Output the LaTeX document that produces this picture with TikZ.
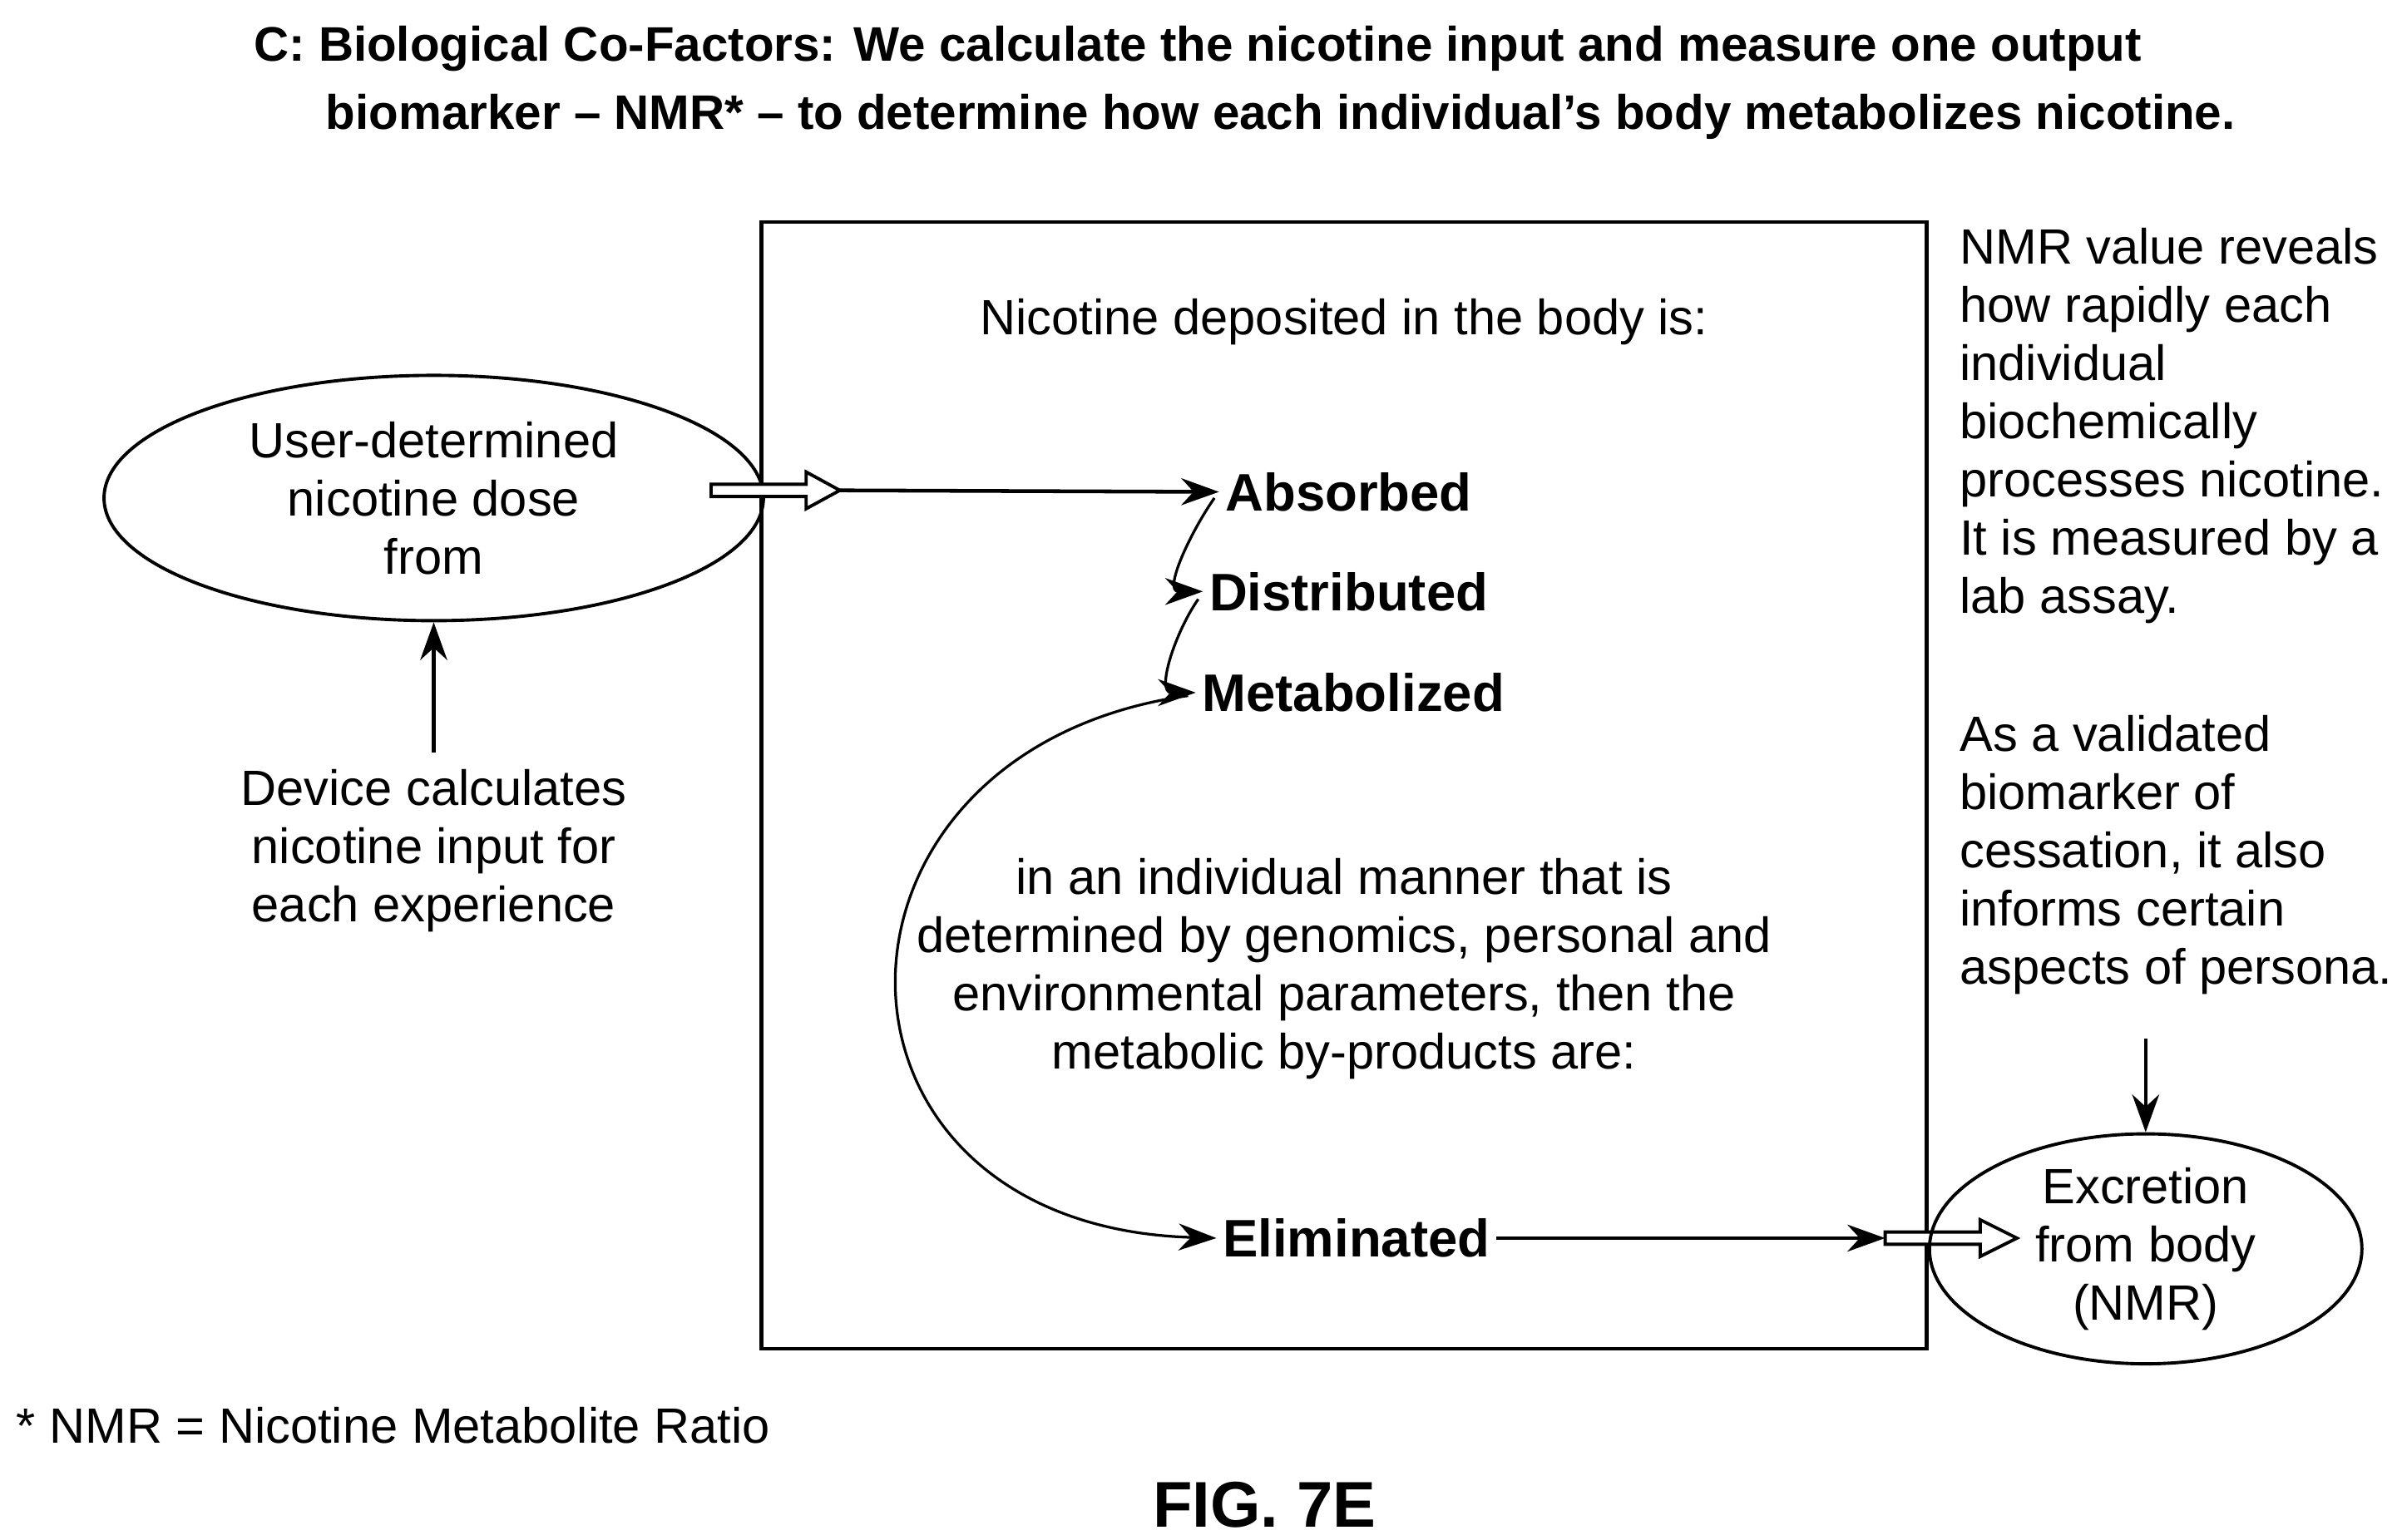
\documentclass[tikz,border=0pt]{standalone}
\usepackage{fontspec}
\setmainfont{Liberation Sans}
\usetikzlibrary{arrows.meta,shapes.geometric}
\begin{document}
\begin{tikzpicture}[x=0.01cm,y=-0.01cm,
  txt/.style={font=\fontsize{9.2}{10.8}\selectfont, align=center, inner sep=0pt},
  lbl/.style={font=\fontsize{9.8}{11}\selectfont\bfseries, inner sep=1pt},
  arr/.style={-{Stealth[length=7pt,width=5pt]}, line width=0.7pt},
  hol/.style={line width=0.6pt, fill=white, line join=miter}]
\useasboundingbox (0,0) rectangle (1564,1005);
\node[anchor=west, inner sep=0pt, font=\fontsize{9}{12}\selectfont\bfseries] (t1) at (165,32) {C: Biological Co-Factors: We calculate the nicotine input and measure one output};
\node[anchor=west, inner sep=0pt, font=\fontsize{9}{12}\selectfont\bfseries] (t2) at (212,76) {biomarker -- NMR* -- to determine how each individual's body metabolizes nicotine.};
\node[draw, line width=0.7pt, minimum width=7.6cm, minimum height=7.35cm, inner sep=0pt] (box) at (877,512.5) {};
\node[draw, ellipse, line width=0.6pt, minimum width=4.3cm, minimum height=1.6cm, txt] (user) at (283,325) {User-determined\\nicotine dose\\from};
\node[txt] (dev) at (283,555) {Device calculates\\nicotine input for\\each experience};
\draw[arr] (dev.north) ++(0,-10) coordinate (d0) -- (user.south);
\node[txt] (dep) at (877,210) {Nicotine deposited in the body is:};
\node[lbl] (abs) at (880,321) {Absorbed};
\node[lbl] (dis) at (880,386) {Distributed};
\node[lbl] (met) at (883,452) {Metabolized};
\node[lbl] (eli) at (885,808) {Eliminated};
\node[txt] (mid) at (877,632) {in an individual manner that is\\determined by genomics, personal and\\environmental parameters, then the\\metabolic by-products are:};
\coordinate (h1) at (464,320);
\coordinate (h2) at (548,320);
\draw[hol] (h1) ++(0,-4) -- ++(62,0) -- ++(0,-8) -- (h2) -- ++(-22,12) -- ++(0,-8) -- ++(-62,0) -- cycle;
\draw[arr] (h2) -- (abs.west);
\draw[arr, line width=0.5pt] (abs.west) ++(-3,4) coordinate (a0) to[out=235,in=180,looseness=1.1] (dis.west);
\draw[arr, line width=0.5pt] (dis.west) ++(-3,5) coordinate (b0) to[out=235,in=180,looseness=1.1] (met.west);
\draw[arr, line width=0.5pt] (met.west) ++(-5,2) coordinate (c0) .. controls (520,490) and (520,800) .. (eli.west);
\coordinate (h3) at (1230,808);
\coordinate (h4) at (1316,808);
\draw[arr] (eli.east) -- (h3);
\draw[hol] (h3) ++(0,-4) -- ++(62,0) -- ++(0,-8) -- (h4) -- ++(-24,12) -- ++(0,-8) -- ++(-62,0) -- cycle;
\node[draw, ellipse, line width=0.6pt, minimum width=2.82cm, minimum height=1.5cm, txt] (exc) at (1400,815) {Excretion\\from body\\(NMR)};
\node[txt, align=left, anchor=north west] (r1) at (1278,148) {NMR value reveals\\how rapidly each\\individual\\biochemically\\processes nicotine.\\It is measured by a\\lab assay.};
\node[txt, align=left, anchor=north west] (r2) at (1278,466) {As a validated\\biomarker of\\cessation, it also\\informs certain\\aspects of persona.};
\draw[arr] (1400,678) coordinate (r0) -- (exc.north);
\node[txt, anchor=west] (fn) at (10,930) {* NMR = Nicotine Metabolite Ratio};
\node[inner sep=0pt, font=\fontsize{12}{14}\selectfont\bfseries] (fig) at (825,982) {FIG. 7E};
\end{tikzpicture}
\end{document}
